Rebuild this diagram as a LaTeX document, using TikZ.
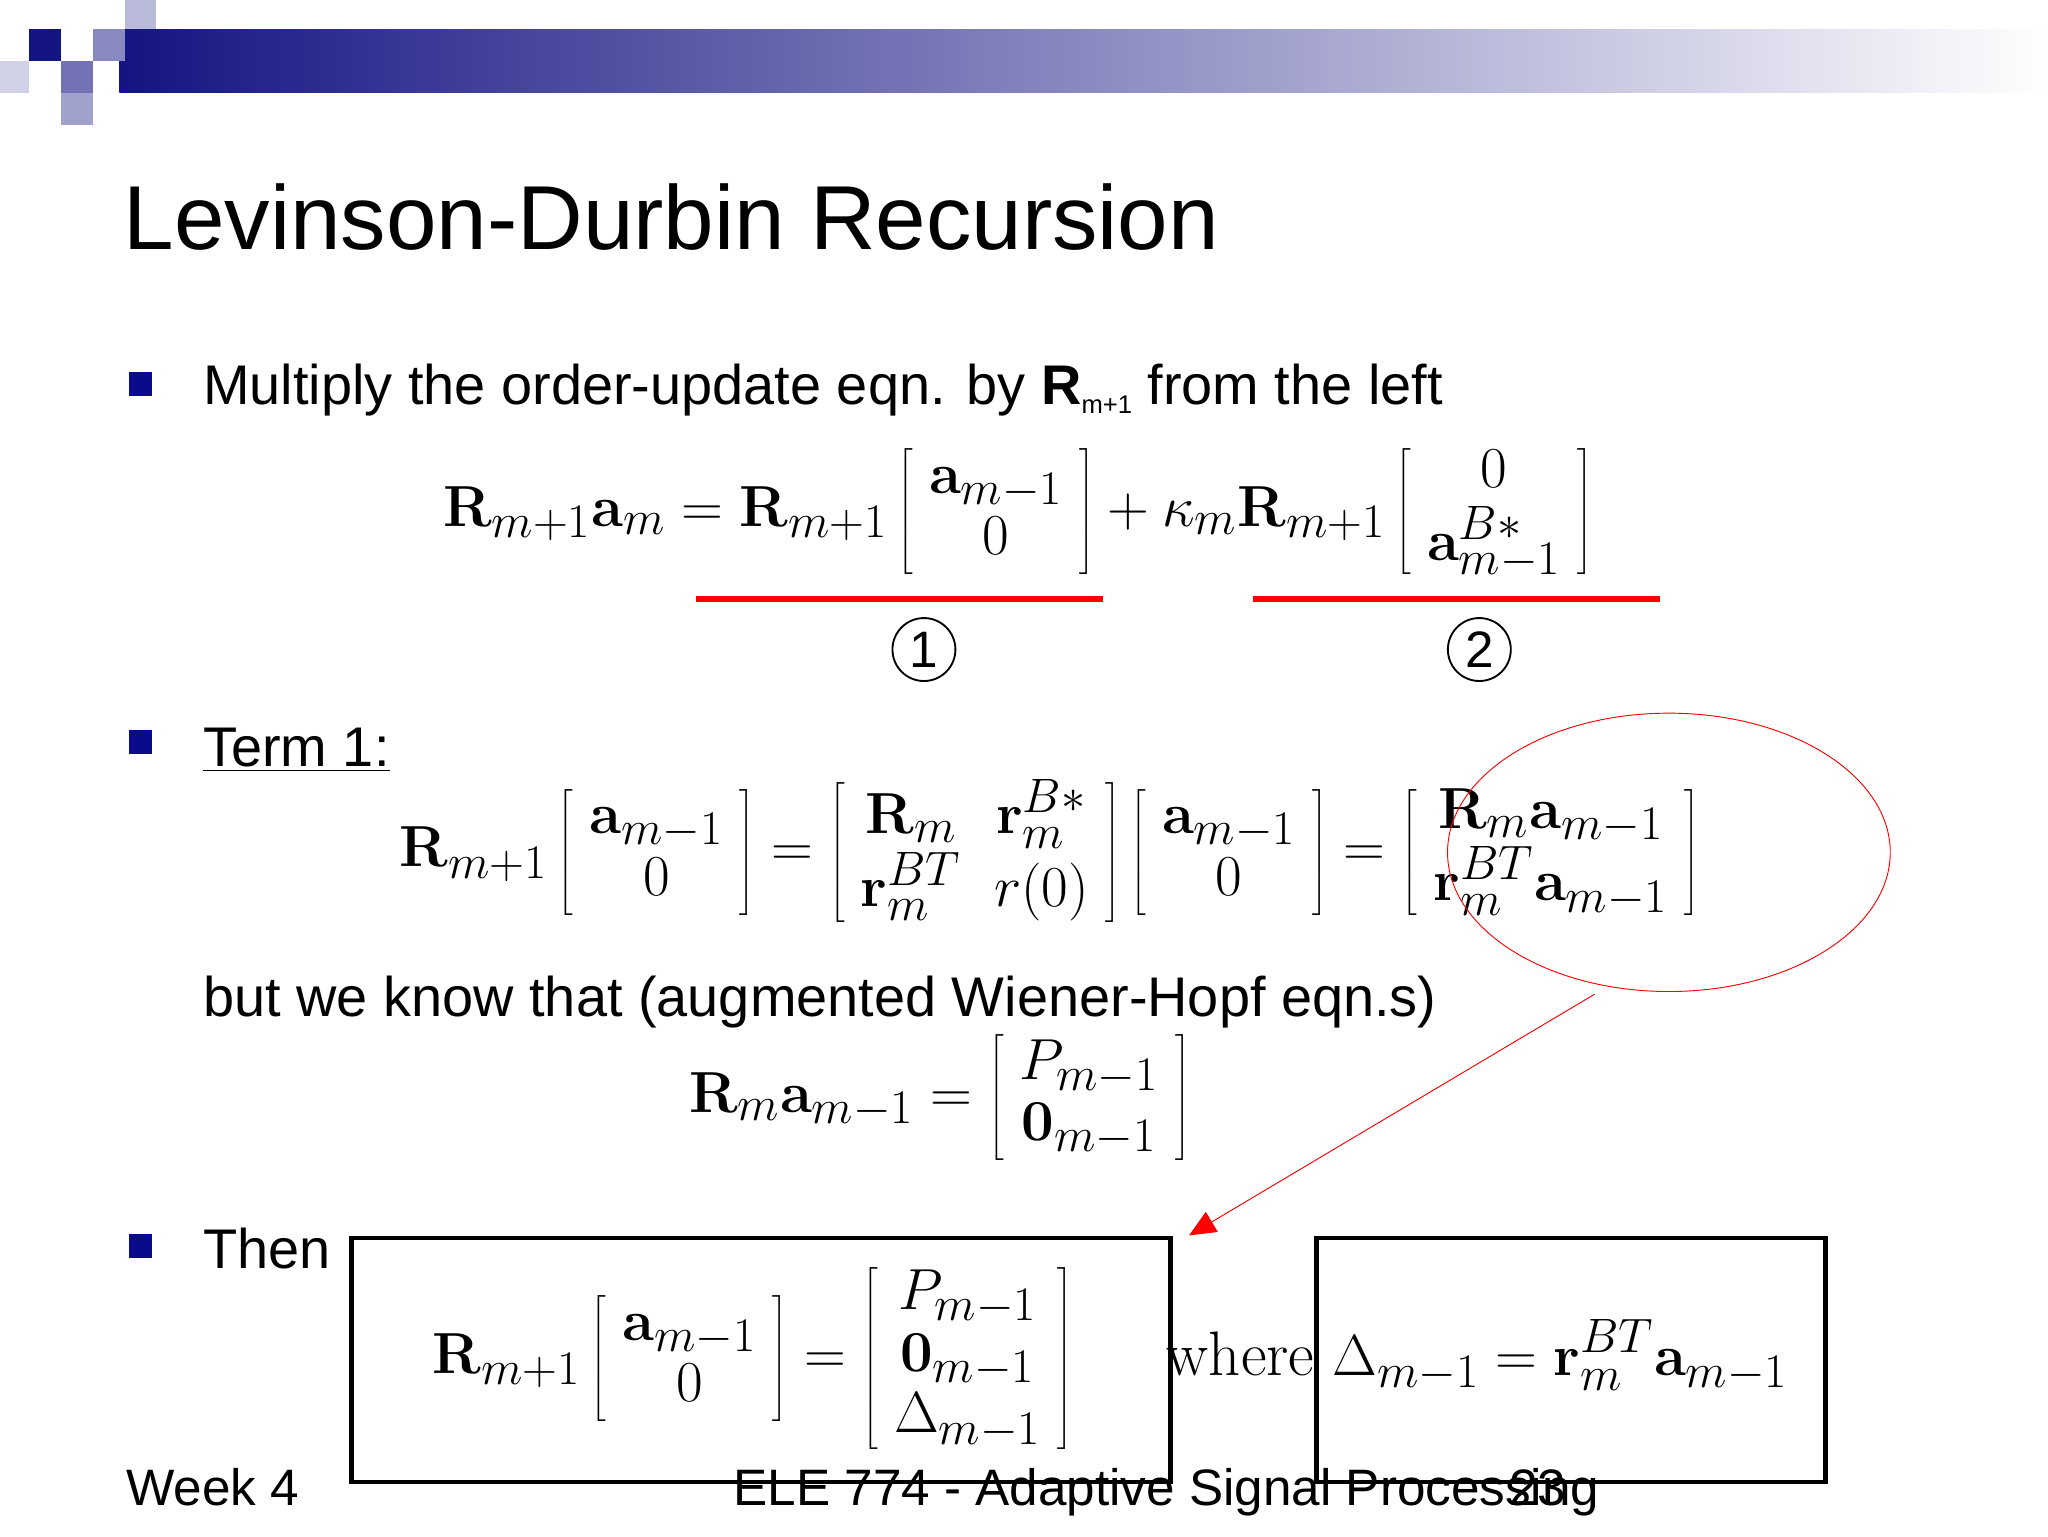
\documentclass[tikz,border=0pt]{standalone}
\usepackage[no-math]{fontspec}
\setmainfont{Liberation Sans}
\usetikzlibrary{arrows.meta}
\definecolor{navy}{RGB}{20,20,130}
\definecolor{bul}{RGB}{10,10,140}
\renewcommand{\arraystretch}{0.78}
\setlength{\arraycolsep}{0.7em}
\begin{document}
\begin{tikzpicture}[x=0.02cm,y=-0.02cm,
  txt/.style={anchor=base west,inner sep=0,font=\fontsize{24}{28}\selectfont},
  eq/.style={inner sep=0,font=\fontsize{30}{34}\selectfont},
  bullet/.style={fill=bul,minimum size=0.36cm,inner sep=0},
  redline/.style={red,line width=2.5pt},
  frame/.style={draw,line width=2pt}]
\useasboundingbox (0,0) rectangle (1545,1159);
\fill[white] (0,0) rectangle (1545,1159);
% header
\shade[left color=navy,right color=white] (90,22) rectangle (1545,70);
\fill[navy] (22,22) rectangle (46,46);
\fill[navy!50] (70,22) rectangle (94,46);
\fill[navy!30] (94,0) rectangle (118,22);
\fill[navy!60] (46,46) rectangle (70,70);
\fill[navy!40] (46,70) rectangle (70,94);
\fill[navy!20] (0,46) rectangle (22,70);
\node[anchor=base west,inner sep=0,font=\fontsize{39}{44}\selectfont] (title) at (93,188) {Levinson-Durbin Recursion};
% bullets
\node[bullet] (b1) at (106,290) {};
\node[bullet] (b2) at (106,560) {};
\node[bullet] (b3) at (106,940) {};
\node[txt] (t1) at (153,305) {Multiply the order-update eqn. by \textbf{R}\raisebox{-0.3ex}{\fontsize{11}{11}\selectfont m+1} from the left};
\node[eq] (e1) at (768,386) {$\displaystyle \mathbf{R}_{m+1}\mathbf{a}_m=\mathbf{R}_{m+1}\left[\begin{array}{c}\mathbf{a}_{m-1}\\0\end{array}\right]+\kappa_m\mathbf{R}_{m+1}\left[\begin{array}{c}0\\\mathbf{a}^{B*}_{m-1}\end{array}\right]$};
\draw[redline] (525,452) -- (832,452);
\draw[redline] (945,452) -- (1252,452);
\node[draw,circle,thick,minimum size=0.95cm,inner sep=0,font=\fontsize{22}{22}\selectfont] (c1) at (697,490) {1};
\node[draw,circle,thick,minimum size=0.95cm,inner sep=0,font=\fontsize{22}{22}\selectfont] (c2) at (1116,490) {2};
\node[txt] (t2) at (153,578) {\underline{Term 1:}};
\node[eq] (e2) at (792,643) {$\displaystyle \mathbf{R}_{m+1}\left[\begin{array}{c}\mathbf{a}_{m-1}\\0\end{array}\right]=\left[\begin{array}{cc}\mathbf{R}_m&\mathbf{r}^{B*}_m\\\mathbf{r}^{BT}_m&r(0)\end{array}\right]\left[\begin{array}{c}\mathbf{a}_{m-1}\\0\end{array}\right]=\left[\begin{array}{c}\mathbf{R}_m\mathbf{a}_{m-1}\\\mathbf{r}^{BT}_m\mathbf{a}_{m-1}\end{array}\right]$};
\draw[red,thin] (1259,643) ellipse [x radius=167,y radius=105];
\node[txt] (t3) at (153,767) {but we know that (augmented Wiener-Hopf eqn.s)};
\node[eq] (e3) at (709,828) {$\displaystyle \mathbf{R}_m\mathbf{a}_{m-1}=\left[\begin{array}{c}P_{m-1}\\\mathbf{0}_{m-1}\end{array}\right]$};
\node[txt] (t4) at (153,957) {Then};
\draw[frame] (265,934) rectangle (883,1118);
\draw[frame] (993,934) rectangle (1377,1118);
\node[eq] (e4) at (568,1025) {$\displaystyle \mathbf{R}_{m+1}\left[\begin{array}{c}\mathbf{a}_{m-1}\\0\end{array}\right]=\left[\begin{array}{c}P_{m-1}\\\mathbf{0}_{m-1}\\\Delta_{m-1}\end{array}\right]$};
\node[eq,anchor=base west,font=\fontsize{27}{30}\selectfont] (w) at (880,1038) {\fontspec{Latin Modern Roman}where};
\node[eq,anchor=base west] (e5) at (1005,1038) {$\displaystyle \Delta_{m-1}=\mathbf{r}^{BT}_m\mathbf{a}_{m-1}$};
\coordinate (as) at (1203,750);
\coordinate (ae) at (897,932);
\draw[red,-{Triangle[length=0.4cm,width=0.35cm]}] (as) -- (ae);
% footer
\node[txt,font=\fontsize{22}{24}\selectfont] (f1) at (95,1136) {Week 4};
\node[anchor=base,inner sep=0,font=\fontsize{22}{24}\selectfont] (f2) at (880,1136) {ELE 774 - Adaptive Signal Processing};
\node[anchor=base,inner sep=0,font=\fontsize{22}{24}\selectfont] (f3) at (1160,1136) {23};
\end{tikzpicture}
\end{document}
